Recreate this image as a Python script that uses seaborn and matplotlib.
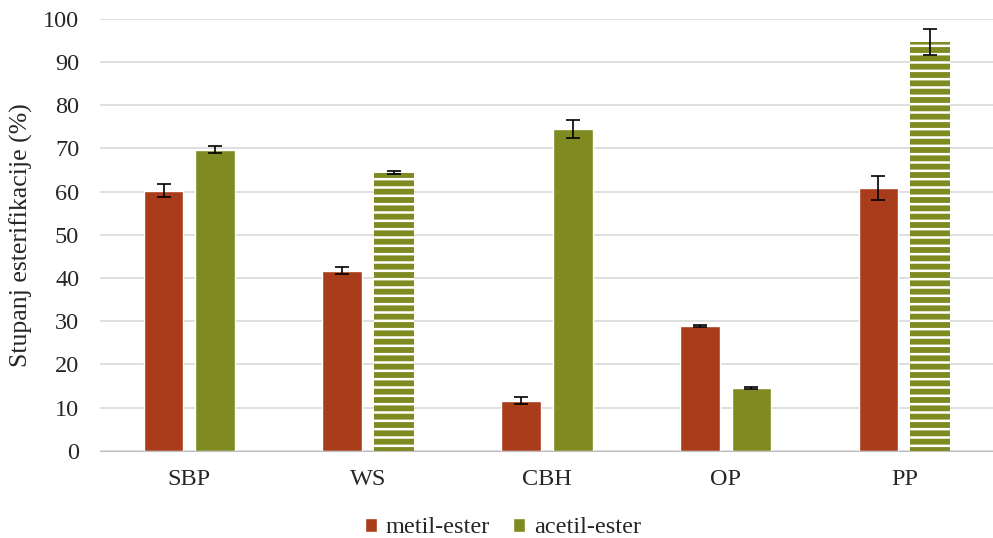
import pandas as pd
import matplotlib.pyplot as plt
import seaborn as sns

categories = ['SBP', 'WS', 'CBH', 'OP', 'PP']
metil = [60.2, 41.7, 11.6, 28.9, 60.9]
metil_err = [1.5, 0.8, 0.8, 0.3, 2.8]
acetil = [69.7, 64.4, 74.5, 14.6, 94.7]
acetil_err = [0.8, 0.4, 2.0, 0.2, 3.0]
series = ['metil-ester', 'acetil-ester']
striped = ['WS', 'PP']  # acetil bars drawn with white horizontal stripes

sns.set_style('white')
plt.rcParams['font.family'] = ['Liberation Serif', 'DejaVu Serif']
plt.rcParams['hatch.linewidth'] = 1.8

data = pd.DataFrame({
    'kat': categories * 2,
    'serija': [series[0]] * 5 + [series[1]] * 5,
    'vrijednost': metil + acetil,
})

fig = plt.figure(figsize=(9.93, 5.38), dpi=100)
ax = fig.add_axes([0.1007, 0.162, 0.9, 0.803])

sns.barplot(data=data, x='kat', y='vrijednost', hue='serija', order=categories,
            hue_order=series, palette=['#A93C1B', '#7F8A21'], saturation=1,
            width=0.578, gap=0.23, errorbar=None, ax=ax)

# error bars + stripes
errs = metil_err + acetil_err
for i, p in enumerate(ax.patches[:10]):
    xc = p.get_x() + p.get_width() / 2
    ax.errorbar(xc, p.get_height(), yerr=errs[i], color='black', capsize=5,
                elinewidth=1.2, capthick=1.2, zorder=5)
    if i >= 5 and categories[i - 5] in striped:
        p.set_hatch('--')
        p.set_edgecolor('white')
        p.set_linewidth(0)

ax.set_ylim(0, 100)
ax.set_xlim(-0.5, 4.5)
ax.set_yticks(range(0, 101, 10))
ax.yaxis.grid(True, color='#D9D9D9', linewidth=1.2)
ax.set_axisbelow(True)
for s in ['top', 'right', 'left']:
    ax.spines[s].set_visible(False)
ax.spines['bottom'].set_color('#BFBFBF')
ax.tick_params(axis='both', length=0, labelsize=17.5)
ax.tick_params(axis='y', pad=15)
ax.tick_params(axis='x', pad=13)
ax.set_xlabel('')
ax.set_ylabel('Stupanj esterifikacije (%)', fontsize=18.5, labelpad=7)

ax.legend(loc='center', bbox_to_anchor=(0.451, -0.178), ncol=2, frameon=False,
          fontsize=17.5, handlelength=0.5, handleheight=0.5, handletextpad=0.35,
          columnspacing=0.95)

plt.savefig('out.png', dpi=100)
